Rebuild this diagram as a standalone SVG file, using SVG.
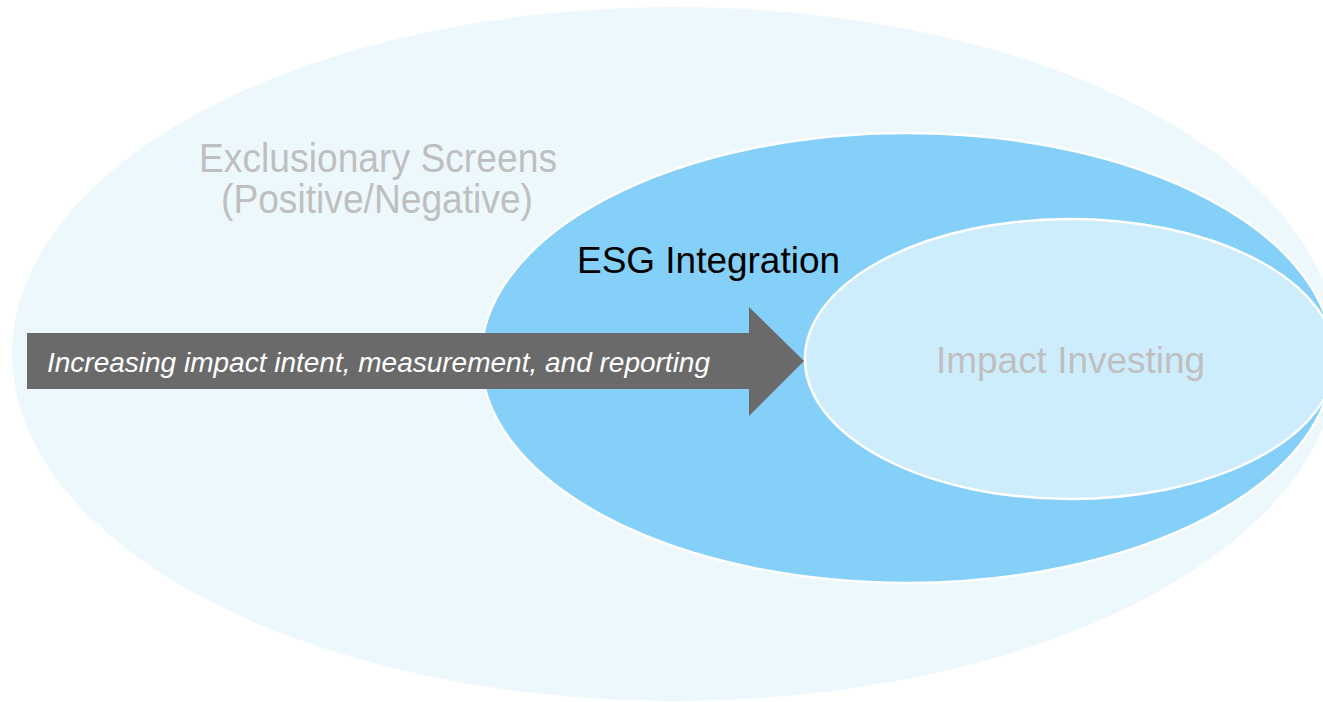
<svg xmlns="http://www.w3.org/2000/svg" width="1323" height="702" viewBox="0 0 1323 702">
  <style>
    .lbl { font-family: "Liberation Sans", Arial, sans-serif; font-size: 37px; text-anchor: middle; }
    .big { font-size: 40px; }
    .grey { fill: #BFBFBF; }
    .ring { stroke: #FFFFFF; stroke-width: 2.5; }
  </style>
  <rect width="1323" height="702" fill="#FFFFFF"/>
  <g id="exclusionary-screens">
    <ellipse cx="675" cy="354" rx="663" ry="347" fill="#EDF8FD"/>
    <text class="lbl big grey" x="378" y="172" textLength="358" lengthAdjust="spacingAndGlyphs">Exclusionary Screens</text>
    <text class="lbl big grey" x="377" y="213" textLength="312" lengthAdjust="spacingAndGlyphs">(Positive/Negative)</text>
  </g>
  <g id="esg-integration">
    <ellipse class="ring" cx="907" cy="358" rx="426" ry="225" fill="#84D0F9"/>
    <text class="lbl" x="708.5" y="273" fill="#000000" textLength="263" lengthAdjust="spacingAndGlyphs">ESG Integration</text>
  </g>
  <g id="impact-investing">
    <ellipse class="ring" cx="1070" cy="359" rx="265" ry="140" fill="#CEEDFC"/>
    <text class="lbl grey" x="1070.5" y="373" textLength="269" lengthAdjust="spacingAndGlyphs">Impact Investing</text>
  </g>
  <g id="connectors">
    <g id="arrow">
      <polygon points="27,333 749,333 749,307 804,361 749,416 749,389 27,389" fill="#6A6A6A"/>
      <text x="47" y="372" fill="#FFFFFF" font-family="'Liberation Sans', Arial, sans-serif" font-style="italic" font-size="27" textLength="663" lengthAdjust="spacingAndGlyphs">Increasing impact intent, measurement, and reporting</text>
    </g>
  </g>
</svg>
